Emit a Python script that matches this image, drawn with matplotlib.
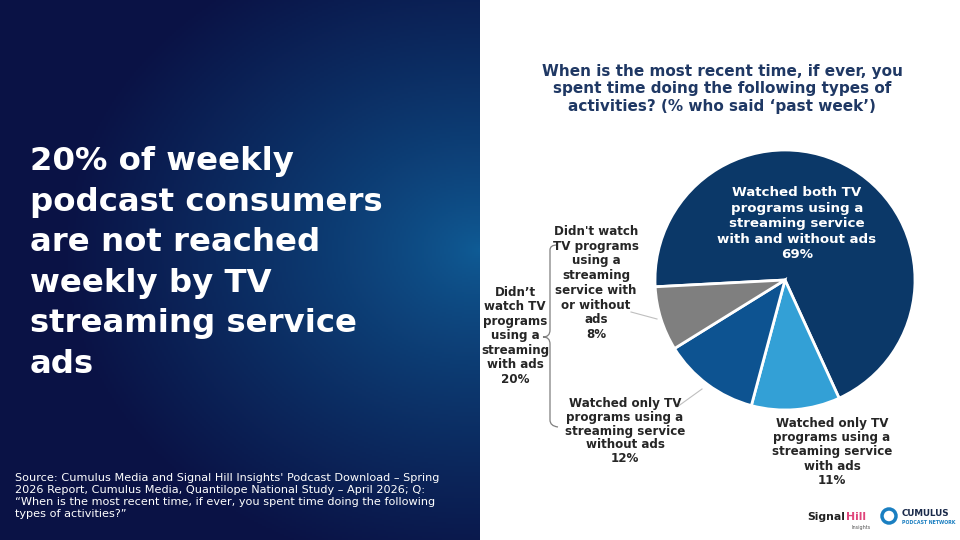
import numpy as np
import matplotlib
matplotlib.use("Agg")
import matplotlib.pyplot as plt
from matplotlib.patches import Circle
from matplotlib.path import Path
from matplotlib.patches import PathPatch

# data
labels = ["Watched both TV\nprograms using a\nstreaming service\nwith and without ads",
          "Watched only TV\nprograms using a\nstreaming service\nwith ads",
          "Watched only TV\nprograms using a\nstreaming service\nwithout ads",
          "Didn't watch\nTV programs\nusing a\nstreaming\nservice with\nor without\nads"]
values = [69, 11, 12, 8]
colors = ["#0b3868", "#33a0d6", "#0d5391", "#7f7f7f"]
bracket_label = "Didn’t\nwatch TV\nprograms\nusing a\nstreaming\nwith ads"
bracket_value = 20

title = "When is the most recent time, if ever, you\nspent time doing the following types of\nactivities? (% who said ‘past week’)"
headline = "20% of weekly\npodcast consumers\nare not reached\nweekly by TV\nstreaming service\nads"
source = ("Source: Cumulus Media and Signal Hill Insights' Podcast Download – Spring\n"
          "2026 Report, Cumulus Media, Quantilope National Study – April 2026; Q:\n"
          "“When is the most recent time, if ever, you spent time doing the following\n"
          "types of activities?”")

plt.rcParams['font.family'] = ['DejaVu Sans']

fig = plt.figure(figsize=(9.6, 5.4), dpi=100)
bg = fig.add_axes([0, 0, 1, 1])
bg.set_xlim(0, 960)
bg.set_ylim(540, 0)
bg.axis('off')

# left gradient panel
xx, yy = np.meshgrid(np.linspace(0, 480, 240), np.linspace(0, 540, 270))
d = np.sqrt(((xx - 480) / 420) ** 2 + ((yy - 250) / 330) ** 2)
t = np.clip(d, 0, 1) ** 0.8
c1 = np.array([0x0f, 0x5c, 0x96]) / 255
c2 = np.array([0x0a, 0x12, 0x45]) / 255
img = c1[None, None, :] * (1 - t[..., None]) + c2[None, None, :] * t[..., None]
bg.imshow(img, extent=[0, 480, 540, 0], aspect='auto', zorder=0)

# pie
cx, cy, r = 785, 280, 130
pax = fig.add_axes([(cx - r) / 960, (540 - cy - r) / 540, 2 * r / 960, 2 * r / 540])
pax.pie(values, colors=colors, startangle=183, counterclock=False,
        wedgeprops=dict(edgecolor='white', linewidth=2))
pax.set_xlim(-1, 1)
pax.set_ylim(-1, 1)
pax.set_aspect('auto')
pax.axis('off')

# overlay for texts
ov = fig.add_axes([0, 0, 1, 1])
ov.set_xlim(0, 960)
ov.set_ylim(540, 0)
ov.axis('off')
ov.patch.set_alpha(0)

ov.text(30, 263, headline, color='white', fontsize=23.3, fontweight='bold',
        ha='left', va='center', linespacing=1.4)
ov.text(15, 496, source, color='white', fontsize=8.1, ha='left', va='center',
        linespacing=1.25)

ov.text(722, 89, title, color='#1f3864', fontsize=11, fontweight='bold',
        ha='center', va='center', linespacing=1.2)

lab_fs = 8.6
ov.text(797, 224, labels[0] + "\n%d%%" % values[0], color='white', fontsize=9.6,
        fontweight='bold', ha='center', va='center', linespacing=1.25)
ov.text(832, 452, labels[1] + "\n%d%%" % values[1], color='#262626', fontsize=lab_fs,
        fontweight='bold', ha='center', va='center', linespacing=1.1)
ov.text(625, 431, labels[2] + "\n%d%%" % values[2], color='#262626', fontsize=lab_fs,
        fontweight='bold', ha='center', va='center', linespacing=1.1)
ov.text(596, 283, labels[3] + "\n%d%%" % values[3], color='#262626', fontsize=lab_fs,
        fontweight='bold', ha='center', va='center', linespacing=1.17)
ov.text(515, 336, bracket_label + "\n%d%%" % bracket_value, color='#262626', fontsize=lab_fs,
        fontweight='bold', ha='center', va='center', linespacing=1.15)

# leader lines
ov.plot([631, 657], [312, 319], color='#bfbfbf', lw=0.8)
ov.plot([677, 702], [407, 389], color='#bfbfbf', lw=0.8)

# brace
verts = [(557, 245), (550, 245), (550, 250), (550, 255),
         (550, 330), (550, 337), (543, 337),
         (550, 337), (550, 344), (550, 350),
         (550, 420), (550, 426), (558, 427)]
codes = [Path.MOVETO, Path.CURVE3, Path.CURVE3, Path.LINETO,
         Path.LINETO, Path.CURVE3, Path.CURVE3,
         Path.CURVE3, Path.CURVE3, Path.LINETO,
         Path.LINETO, Path.CURVE3, Path.CURVE3]
ov.add_patch(PathPatch(Path(verts, codes), fill=False, edgecolor='#7f7f7f', lw=0.9))

# logos
ov.text(807, 517, "Signal", color='#222222', fontsize=7.8, fontweight='bold', ha='left', va='center')
ov.text(846, 517, "Hill", color='#e0457b', fontsize=7.8, fontweight='bold', ha='left', va='center')
ov.text(861, 527, "Insights", color='#555555', fontsize=3.5, ha='center', va='center')
ov.add_patch(Circle((889, 516), 7, facecolor='white', edgecolor='#1a7fc1', lw=2.5))
ov.text(902, 513, "CUMULUS", color='#1a2a4a', fontsize=6.3, fontweight='bold', ha='left', va='center')
ov.text(902, 522, "PODCAST NETWORK", color='#1a7fc1', fontsize=3.4, fontweight='bold', ha='left', va='center')

fig.savefig("out.png", dpi=100)
